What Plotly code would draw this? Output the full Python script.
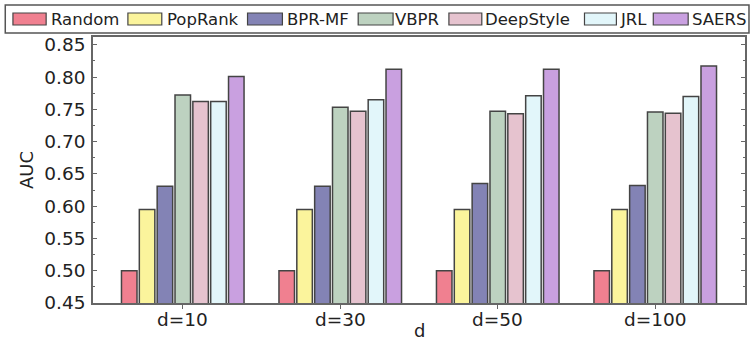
import plotly.graph_objects as go

categories = ["d=10", "d=30", "d=50", "d=100"]
methods = ["Random", "PopRank", "BPR-MF", "VBPR", "DeepStyle", "JRL", "SAERS"]
random_auc = [0.500, 0.500, 0.500, 0.500]
poprank_auc = [0.595, 0.595, 0.595, 0.595]
bprmf_auc = [0.631, 0.631, 0.635, 0.632]
vbpr_auc = [0.772, 0.753, 0.747, 0.746]
deepstyle_auc = [0.762, 0.747, 0.743, 0.744]
jrl_auc = [0.762, 0.765, 0.771, 0.770]
saers_auc = [0.801, 0.812, 0.812, 0.817]
series = [random_auc, poprank_auc, bprmf_auc, vbpr_auc, deepstyle_auc, jrl_auc, saers_auc]
y_ticks = [0.45, 0.50, 0.55, 0.60, 0.65, 0.70, 0.75, 0.80, 0.85]

colors = ["#F08090", "#FBF49C", "#8383B5", "#BDD2C0", "#E6C3CF", "#E2F6FA", "#C9A0E0"]
edge = "#444444"
FONT = "DejaVu Sans"
W, H = 753, 341
L, R, T, B = 93, 6, 37, 38
PW, PH = W - L - R, H - T - B


def px2x(px):
    return (px - L) / PW


def px2y(py):
    return (H - B - py) / PH


fig = go.Figure()
for name, vals, col in zip(methods, series, colors):
    fig.add_trace(go.Bar(
        x=categories, y=vals, name=name, showlegend=False,
        marker=dict(color=col, line=dict(color=edge, width=1.5)),
    ))

# manual legend (wide patches like the original)
patch_x = [(12.7, 46), (128, 162), (248, 283), (359, 394), (450, 483), (586, 618), (655, 690)]
text_x = [50, 166, 287, 395, 485, 621, 693]
shapes = []
annotations = []
shapes.append(dict(
    type="rect", xref="paper", yref="paper",
    x0=px2x(5), x1=px2x(751), y0=px2y(33), y1=px2y(5),
    line=dict(color="#555555", width=1.5), fillcolor="white", layer="above",
))
for (a, b), tx, name, col in zip(patch_x, text_x, methods, colors):
    shapes.append(dict(
        type="rect", xref="paper", yref="paper",
        x0=px2x(a), x1=px2x(b), y0=px2y(25), y1=px2y(13),
        line=dict(color=edge, width=1.2), fillcolor=col, layer="above",
    ))
    annotations.append(dict(
        text=name, xref="paper", yref="paper", x=px2x(tx - 1), y=px2y(19.5),
        xanchor="left", yanchor="middle", showarrow=False,
        font=dict(family=FONT, size=16.5, color="#222222"),
    ))

# category labels (placed closer to the axis like the original)
for cat in categories:
    annotations.append(dict(
        text=cat, xref="x", yref="paper", x=cat, y=px2y(319),
        xanchor="center", yanchor="middle", showarrow=False,
        font=dict(family=FONT, size=18.5, color="#222222"),
    ))

annotations.append(dict(
    text="d", xref="paper", yref="paper", x=0.5, y=px2y(330),
    xanchor="center", yanchor="middle", showarrow=False,
    font=dict(family=FONT, size=18, color="#222222"),
))

fig.update_layout(
    width=W, height=H,
    margin=dict(l=L, r=R, t=T, b=B, pad=0),
    paper_bgcolor="white", plot_bgcolor="white",
    barmode="group", bargap=0.207, bargroupgap=0.13,
    shapes=shapes, annotations=annotations,
    font=dict(family=FONT, size=18, color="#222222"),
    xaxis=dict(
        range=[-0.57, 3.57], showgrid=False, zeroline=False,
        showline=True, linecolor="#666666", linewidth=1.5, mirror=True,
        ticks="outside", ticklen=4, tickcolor="#666666",
        showticklabels=False,
    ),
    yaxis=dict(
        range=[0.45, 0.862], showgrid=False, zeroline=False,
        tickvals=y_ticks, ticktext=[f"{v:.2f}" for v in y_ticks],
        showline=True, linecolor="#666666", linewidth=1.5, mirror="allticks",
        ticks="inside", ticklen=4, tickcolor="#666666",
        ticklabelstandoff=2,
        minor=dict(ticks="inside", dtick=0.025, tick0=0.45, ticklen=2.5, tickcolor="#666666"),
        tickfont=dict(family=FONT, size=18.5, color="#222222"),
        title=dict(text="AUC", font=dict(family=FONT, size=18, color="#222222"), standoff=6),
    ),
)

fig.write_html("out.html")
